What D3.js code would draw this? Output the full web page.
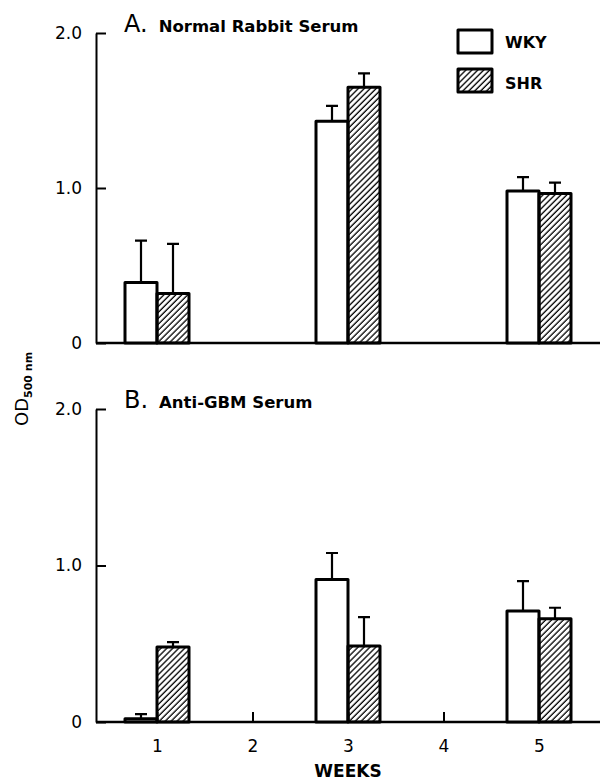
<!DOCTYPE html>
<html>
<head>
<meta charset="utf-8">
<script src="https://cdn.jsdelivr.net/npm/d3@7"></script>
<style>
  body { margin: 0; background: #fff; }
  svg { display: block; }
  text { font-family: "DejaVu Sans", "Liberation Sans", sans-serif; fill: #000; }
  .axis path, .axis line { stroke: #000; stroke-width: 2; }
  .axis text { font-size: 17px; font-family: "DejaVu Sans", sans-serif; }
</style>
</head>
<body>
<div id="chart"></div>
<script>
// weeks on the x axis
var weeks = [1, 3, 5];
var tickWeeks = [1, 2, 3, 4, 5];
var groups = ["WKY", "SHR"];

// y ticks
var yTicks = [0, 1, 2];
var yTickLabels = ["0", "1.0", "2.0"];

// A. Normal rabbit serum (mean, upper error)
var normalWKY = [0.39, 1.43, 0.98];
var normalWKYErr = [0.27, 0.10, 0.09];
var normalSHR = [0.32, 1.65, 0.965];
var normalSHRErr = [0.32, 0.09, 0.07];

// B. Anti-GBM serum
var gbmWKY = [0.02, 0.91, 0.71];
var gbmWKYErr = [0.03, 0.17, 0.19];
var gbmSHR = [0.48, 0.485, 0.66];
var gbmSHRErr = [0.03, 0.185, 0.07];

var width = 600, height = 783;
var axisX = 96, barW = 32;

var panels = [
  {letter: "A.", title: "Normal Rabbit Serum", wky: normalWKY, wkyErr: normalWKYErr,
   shr: normalSHR, shrErr: normalSHRErr, top: 33, bottom: 343, xLabels: false},
  {letter: "B.", title: "Anti-GBM Serum", wky: gbmWKY, wkyErr: gbmWKYErr,
   shr: gbmSHR, shrErr: gbmSHRErr, top: 409, bottom: 722, xLabels: true}
];

var x = d3.scaleLinear().domain([1, 5]).range([157, 539]);

var svg = d3.select("#chart").append("svg")
    .attr("width", width)
    .attr("height", height);

// hatch for SHR
svg.append("defs").append("pattern")
    .attr("id", "hatch")
    .attr("patternUnits", "userSpaceOnUse")
    .attr("width", 4.2)
    .attr("height", 4.2)
    .attr("patternTransform", "rotate(45)")
  .append("line")
    .attr("x1", 1).attr("y1", 0)
    .attr("x2", 1).attr("y2", 4.2)
    .attr("stroke", "#000")
    .attr("stroke-width", 1.3);

panels.forEach(function(p) {
  var y = d3.scaleLinear().domain([0, 2]).range([p.bottom, p.top]);
  var g = svg.append("g");

  // y axis, ticks pointing inward
  g.append("g")
      .attr("class", "axis")
      .attr("transform", "translate(" + axisX + ",0)")
      .call(d3.axisLeft(y).tickValues(yTicks).tickSizeInner(-10).tickSizeOuter(0).tickPadding(14)
        .tickFormat(function(d, i) { return yTickLabels[i]; }));

  // baseline runs to the right edge
  g.append("line")
      .attr("x1", axisX).attr("x2", width)
      .attr("y1", y(0)).attr("y2", y(0))
      .attr("stroke", "#000").attr("stroke-width", 2.5);

  if (p.xLabels) {
    var xa = g.append("g")
        .attr("class", "axis")
        .attr("transform", "translate(0," + y(0) + ")")
        .call(d3.axisBottom(x).tickValues(tickWeeks).tickSizeInner(-10).tickSizeOuter(0).tickPadding(18)
          .tickFormat(d3.format("d")));
    xa.select(".domain").remove();
  }

  // title
  var t = g.append("text")
      .attr("x", 124)
      .attr("y", p.top - 1);
  t.append("tspan").style("font-size", "24px").text(p.letter);
  t.append("tspan").attr("dx", 11).style("font-size", "16.5px").style("font-weight", "bold").text(p.title);

  var series = [
    {name: "WKY", vals: p.wky, err: p.wkyErr, off: -barW, fill: "#fff"},
    {name: "SHR", vals: p.shr, err: p.shrErr, off: 0, fill: "url(#hatch)"}
  ];

  series.forEach(function(s) {
    var sg = g.append("g");
    // error bars (upper only)
    sg.selectAll(".err")
      .data(weeks)
      .enter().append("path")
        .attr("fill", "none")
        .attr("stroke", "#000")
        .attr("stroke-width", 2.2)
        .attr("d", function(w, i) {
          var cx = x(w) + s.off + barW / 2;
          var yt = y(s.vals[i] + s.err[i]);
          return "M" + cx + "," + y(s.vals[i]) + "V" + yt + "M" + (cx - 6) + "," + yt + "H" + (cx + 6);
        });
    sg.selectAll("rect")
      .data(weeks)
      .enter().append("rect")
        .attr("x", function(w) { return x(w) + s.off; })
        .attr("y", function(w, i) { return y(s.vals[i]); })
        .attr("width", barW)
        .attr("height", function(w, i) { return y(0) - y(s.vals[i]); })
        .attr("fill", s.fill)
        .attr("stroke", "#000")
        .attr("stroke-width", 3)
        .attr("stroke-linejoin", "round");
  });
});

// legend
var legend = svg.append("g");
groups.forEach(function(name, i) {
  legend.append("rect")
      .attr("x", 458).attr("y", 30 + i * 39)
      .attr("width", 34).attr("height", 23)
      .attr("fill", i === 0 ? "#fff" : "url(#hatch)")
      .attr("stroke", "#000").attr("stroke-width", 3)
      .attr("stroke-linejoin", "round");
  legend.append("text")
      .attr("x", 505).attr("y", 48 + i * 41)
      .style("font-size", "16px").style("font-weight", "bold")
      .text(name);
});

// axis titles
svg.append("text")
    .attr("x", x(3))
    .attr("y", 777)
    .attr("text-anchor", "middle")
    .style("font-size", "17px").style("font-weight", "bold")
    .text("WEEKS");

var yl = svg.append("text")
    .attr("transform", "translate(28,426) rotate(-90)")
    .style("font-size", "18px");
yl.append("tspan").text("OD");
yl.append("tspan").attr("dy", 4).style("font-size", "11px").style("font-weight", "bold").text("500 nm");
</script>
</body>
</html>
